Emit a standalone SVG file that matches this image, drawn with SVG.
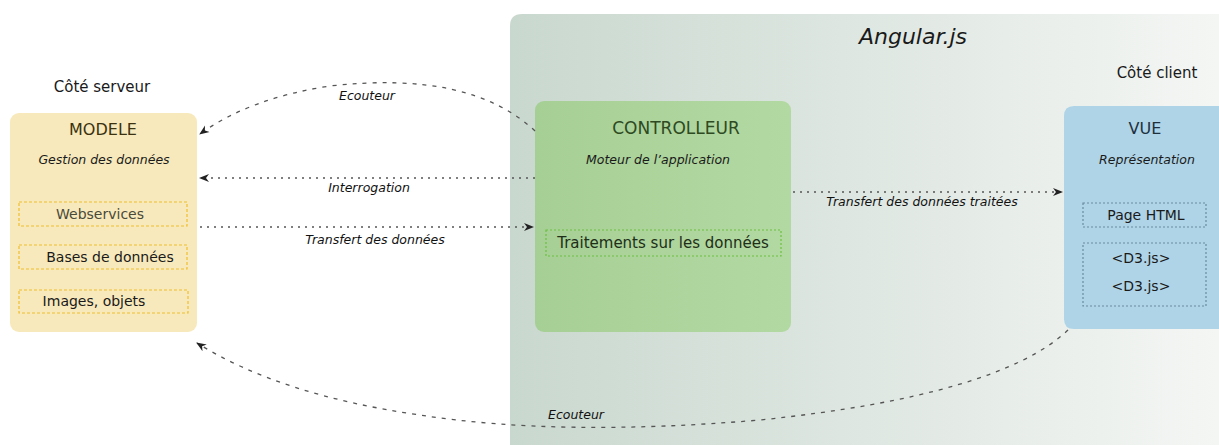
<svg xmlns="http://www.w3.org/2000/svg" width="1219" height="445" viewBox="0 0 1219 445">
<defs>
<linearGradient id="ang" x1="0" y1="0" x2="1" y2="0">
<stop offset="0" stop-color="#c9d8cf"/>
<stop offset="1" stop-color="#f4f6f4"/>
</linearGradient>
<linearGradient id="ctl" x1="0" y1="0" x2="1" y2="0">
<stop offset="0" stop-color="#a6cf95"/>
<stop offset="1" stop-color="#b3d9a2"/>
</linearGradient>
<marker id="arr" viewBox="0 0 10 10" refX="9" refY="5" markerWidth="10" markerHeight="10" markerUnits="userSpaceOnUse" orient="auto">
<path d="M0,1 L10,5 L0,9 L3,5 Z" fill="#222"/>
</marker>
</defs>
<style>
text{font-family:"DejaVu Sans","Liberation Sans",sans-serif;fill:#1a1a1a}
.t{font-size:14px;text-anchor:middle}
.h{font-size:16px;text-anchor:middle}
.s{font-size:12.5px;font-style:italic;text-anchor:middle}
.lbl{font-size:12.5px;font-style:italic;text-anchor:middle;fill:#111}
.c{fill:none;stroke:#555;stroke-width:1.3;stroke-dasharray:2 5}
.cd{fill:none;stroke:#555;stroke-width:1.3;stroke-dasharray:4 6}
.ys{fill:none;stroke:#f0c030;stroke-width:1.2;stroke-dasharray:3 2}
.gs{fill:none;stroke:#6cc040;stroke-width:1.2;stroke-dasharray:2 2}
.bs{fill:none;stroke:#6a8aa0;stroke-width:1.2;stroke-dasharray:2 2}
</style>
<g id="angular">
<path d="M522,14 H1219 V445 H510 V26 Q510,14 522,14 Z" fill="url(#ang)"/>
<text x="913" y="44" style="font-size:22px;font-style:italic;text-anchor:middle">Angular.js</text>
</g>
<text x="102" y="92" class="t" style="font-size:15px">Côté serveur</text>
<text x="1157" y="78" class="t" style="font-size:15px">Côté client</text>
<g id="modele">
<rect x="10" y="113" width="187" height="219" rx="9" fill="#f7e9bb"/>
<text x="103" y="135" class="h" style="fill:#3a3210">MODELE</text>
<text x="104" y="164" class="s">Gestion des données</text>
<rect x="19" y="202" width="168" height="24" class="ys"/>
<text x="100" y="219" class="t" style="fill:#4a4a3a">Webservices</text>
<rect x="19" y="245" width="168" height="24" class="ys"/>
<text x="110" y="262" class="t">Bases de données</text>
<rect x="19" y="290" width="169" height="23" class="ys"/>
<text x="94" y="306" class="t">Images, objets</text>
</g>
<g id="controlleur">
<rect x="535" y="101" width="256" height="231" rx="9" fill="url(#ctl)"/>
<text x="676" y="134" class="h" style="fill:#2e4a22;font-size:17px">CONTROLLEUR</text>
<text x="658" y="164" class="s">Moteur de l’application</text>
<rect x="546" y="230" width="235" height="26" class="gs"/>
<text x="663" y="248" class="t" style="fill:#1e2e18;font-size:15px">Traitements sur les données</text>
</g>
<g id="vue">
<path d="M1074,106 H1219 V329 H1074 Q1064,329 1064,319 V116 Q1064,106 1074,106 Z" fill="#afd4e7"/>
<text x="1145" y="134" class="h" style="fill:#1e3040">VUE</text>
<text x="1147" y="164" class="s">Représentation</text>
<rect x="1083" y="203" width="123" height="24" class="bs"/>
<text x="1146" y="220" class="t">Page HTML</text>
<rect x="1083" y="243" width="123" height="63" class="bs"/>
<text x="1141" y="263" class="t">&lt;D3.js&gt;</text>
<text x="1141" y="291" class="t">&lt;D3.js&gt;</text>
</g>
<g id="connectors">
<path d="M535,131 Q470,70 330,86 Q250,98 200,134" class="cd" marker-end="url(#arr)"/>
<text x="367" y="100" class="lbl">Ecouteur</text>
<path d="M535,178 H200" class="c" marker-end="url(#arr)"/>
<text x="369" y="192" class="lbl">Interrogation</text>
<path d="M200,227 H533" class="c" marker-end="url(#arr)"/>
<text x="375" y="244" class="lbl">Transfert des données</text>
<path d="M793,192 H1062" class="c" marker-end="url(#arr)"/>
<text x="922" y="206" class="lbl">Transfert des données traitées</text>
<path d="M1068,330 Q1000,395 760,420 Q560,437 420,415 Q280,395 197,343" class="cd" marker-end="url(#arr)"/>
<text x="576" y="419" class="lbl">Ecouteur</text>
</g>
</svg>
